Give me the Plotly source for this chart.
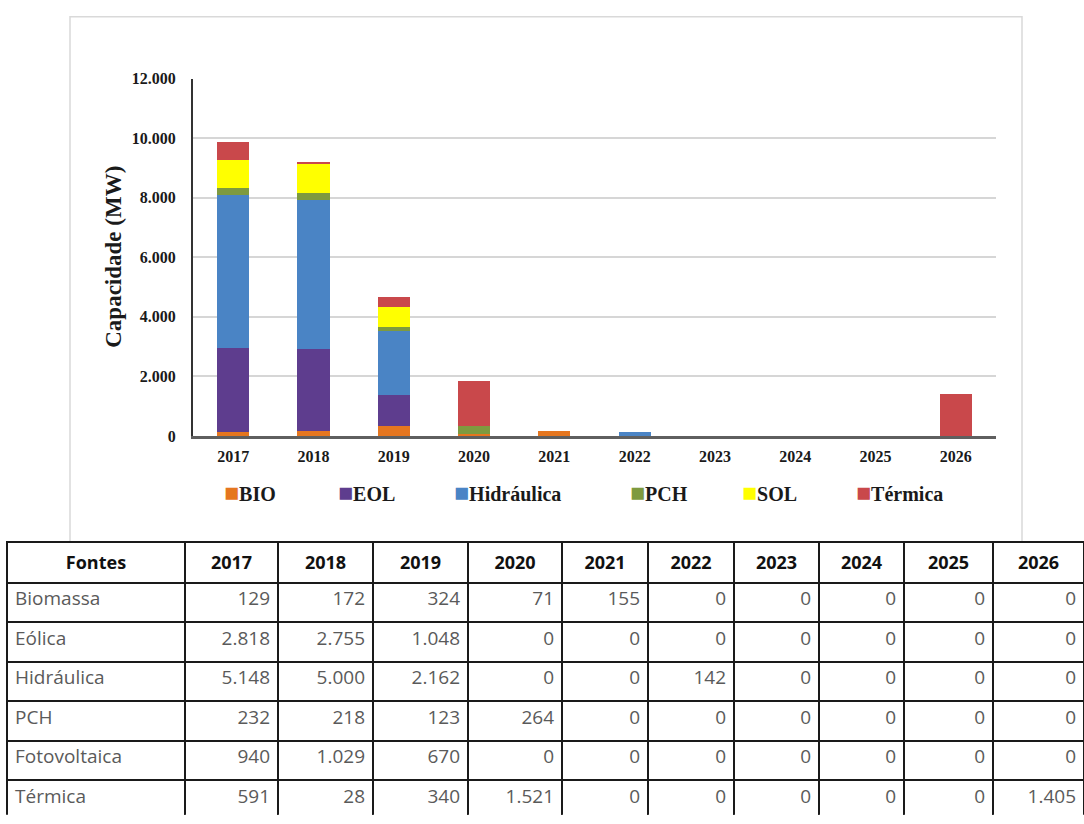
import plotly.graph_objects as go

# ---- data -------------------------------------------------------------
years = ["2017", "2018", "2019", "2020", "2021", "2022", "2023", "2024", "2025", "2026"]

bio = [129, 172, 324, 71, 155, 0, 0, 0, 0, 0]
eol = [2818, 2755, 1048, 0, 0, 0, 0, 0, 0, 0]
hidraulica = [5148, 5000, 2162, 0, 0, 142, 0, 0, 0, 0]
pch = [232, 218, 123, 264, 0, 0, 0, 0, 0, 0]
sol = [940, 1029, 670, 0, 0, 0, 0, 0, 0, 0]
termica = [591, 28, 340, 1521, 0, 0, 0, 0, 0, 1405]

chart_names = ["BIO", "EOL", "Hidráulica", "PCH", "SOL", "Térmica"]
table_names = ["Biomassa", "Eólica", "Hidráulica", "PCH", "Fotovoltaica", "Térmica"]
series = [bio, eol, hidraulica, pch, sol, termica]
colors = ["#E5761F", "#5E3D8E", "#4A84C5", "#7E9A3F", "#FFFF00", "#C9484B"]

# ---- page geometry (pixels) ---------------------------------------------
W, H = 1084, 824


def px(x):
    return x / W


def py(y):
    return 1 - y / H


SERIF = "Liberation Serif"
SANS = "Open Sans"

fig = go.Figure()

for name, vals, col in zip(chart_names, series, colors):
    fig.add_trace(go.Bar(
        x=years, y=vals, name=name, marker=dict(color=col, line=dict(width=0)),
        showlegend=False, xaxis="x", yaxis="y",
    ))


def br(v):
    return f"{v:,}".replace(",", ".")


header_vals = ["<b>Fontes</b>"] + [f"<b>{y}</b>" for y in years]
cell_cols = [table_names] + [[br(s[i]) for s in series] for i in range(len(years))]

fig.add_trace(go.Table(
    domain=dict(x=[px(7), 1.0], y=[0.0, py(545)]),
    columnwidth=[178, 93, 95, 95, 94, 86, 86, 85, 85, 89, 91],
    header=dict(
        values=header_vals, height=41, align="center",
        fill=dict(color="white"),
        line=dict(color="#1a1a1a", width=1.6),
        font=dict(family=SANS, size=18, color="#111111"),
    ),
    cells=dict(
        values=cell_cols, height=39.5,
        align=["left"] + ["right"] * len(years),
        fill=dict(color="white"),
        line=dict(color="#1a1a1a", width=1.6),
        font=dict(family=SANS, size=19, color="#5a5a5a"),
    ),
))

# legend drawn as text entries under the x axis
legend_x = [222, 336, 452, 628, 740, 854]
annotations = []
for name, col, lx in zip(chart_names, colors, legend_x):
    annotations.append(dict(
        xref="paper", yref="paper", x=px(lx), y=py(495),
        xanchor="left", yanchor="middle", showarrow=False,
        text=f'<span style="color:{col};font-size:25px">■</span>{name}',
        font=dict(family=SERIF, size=20, color="#1a1a1a", weight=700),
    ))

annotations.append(dict(
    xref="paper", yref="paper", x=px(114), y=py(254),
    xanchor="center", yanchor="middle", showarrow=False, textangle=-90,
    text="Capacidade (MW)",
    font=dict(family=SERIF, size=23, color="#1a1a1a", weight=700),
))

fig.update_layout(
    width=W, height=H,
    margin=dict(l=0, r=0, t=0, b=0),
    paper_bgcolor="white", plot_bgcolor="white",
    barmode="stack", bargap=0.6,
    separators=",.",
    annotations=annotations,
    shapes=[dict(
        type="rect", xref="paper", yref="paper", layer="below",
        x0=px(70), x1=px(1022), y0=py(545), y1=py(9),
        line=dict(color="#d9d9d9", width=1.5), fillcolor="white",
    )],
    xaxis=dict(
        domain=[px(193), px(996)], type="category",
        showline=True, linecolor="#5f5f5f", linewidth=2.5,
        showgrid=False, zeroline=False,
        ticks="outside", ticklen=4, tickcolor="rgba(0,0,0,0)",
        tickfont=dict(family=SERIF, size=16, color="#1a1a1a", weight=700),
    ),
    yaxis=dict(
        domain=[py(437), py(72)], range=[0, 12000],
        tickvals=[0, 2000, 4000, 6000, 8000, 10000, 12000], tickformat=",d",
        showline=True, linecolor="#333333", linewidth=2,
        showgrid=True, gridcolor="#d6d6d6", gridwidth=1.5, zeroline=False,
        ticks="outside", ticklen=12, tickcolor="rgba(0,0,0,0)",
        tickfont=dict(family=SERIF, size=16, color="#1a1a1a", weight=700),
    ),
)

fig.write_html("out.html")
